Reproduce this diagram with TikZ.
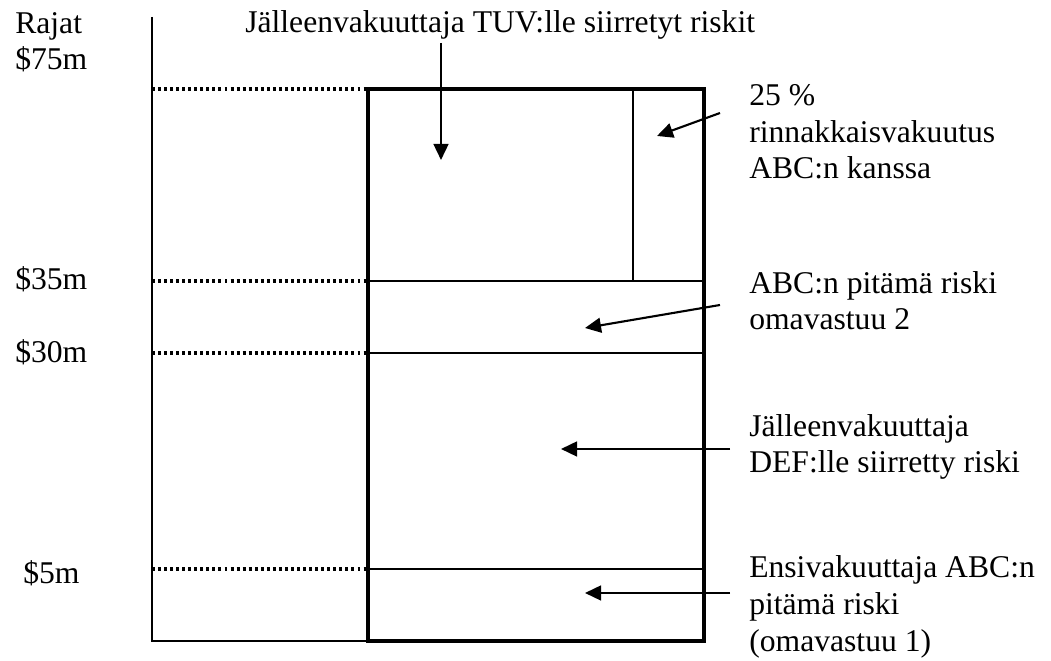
\documentclass[tikz,border=0pt]{standalone}
\usepackage{fontspec}
\setmainfont{Liberation Serif}
\usetikzlibrary{arrows.meta}

\tikzset{
  txt/.style={anchor=base west, align=left, inner sep=0pt,
              font=\fontsize{22.5}{26.3}\selectfont},
  layer/.style={line width=1.9pt},
  limit/.style={line width=2.2pt, dash pattern=on 2.1pt off 2.2pt},
  pointer/.style={line width=1.5pt, -{Triangle[length=0.4cm,width=0.37cm]}}
}

\begin{document}
\begin{tikzpicture}
  \useasboundingbox (0,0) rectangle (26.275,16.525);

  % ---------- axis ----------
  \draw[line width=1.3pt] (3.8,16.1) -- (3.8,0.5) -- (9.2,0.5);

  % ---------- limits ----------
  \node[txt] (rajat) at (0.375,14.775) {Rajat\\\$75m};
  \foreach \tx/\ty/\lab [count=\i] in {0.375/9.275/\$35m, 0.375/7.45/\$30m, 0.575/1.925/\$5m}{
    \node[txt] (lim\i) at (\tx,\ty) {\lab};
  }
  \foreach \y in {14.3,9.5,7.7,2.3}{
    \draw[limit] (3.8,\y) -- (9.2,\y);
  }

  % ---------- layers ----------
  \draw[layer] (9.2,9.5) -- (17.6,9.5);
  \draw[layer] (9.2,7.7) -- (17.6,7.7);
  \draw[layer] (9.2,2.3) -- (17.6,2.3);
  \draw[layer] (15.825,14.3) -- (15.825,9.5);
  \draw[line width=2.6pt] (9.2,0.5) rectangle (17.6,14.3);

  % ---------- labels ----------
  \node[txt] (tuv) at (6.125,15.7) {Jälleenvakuuttaja TUV:lle siirretyt riskit};
  \node[txt] (coins) at (18.725,12.05) {25 \%\\rinnakkaisvakuutus\\ABC:n kanssa};
  \node[txt] (abcRisk) at (18.725,8.275) {ABC:n pitämä riski\\omavastuu 2};
  \node[txt] (defRisk) at (18.725,4.7) {Jälleenvakuuttaja\\DEF:lle siirretty riski};
  \node[txt] (ensiRisk) at (18.725,0.24) {Ensivakuuttaja ABC:n\\pitämä riski\\(omavastuu 1)};

  % ---------- pointers ----------
  \coordinate (tuvTail) at (11.025,15.45);
  \coordinate (tuvTip) at (11.025,12.525);
  \coordinate (coinsTail) at (18.0,13.7);
  \coordinate (coinsTip) at (16.425,13.125);
  \coordinate (abcTail) at (18.0,8.9);
  \coordinate (abcTip) at (14.625,8.325);
  \coordinate (defTail) at (18.25,5.3);
  \coordinate (defTip) at (14.025,5.3);
  \coordinate (ensiTail) at (18.25,1.7);
  \coordinate (ensiTip) at (14.625,1.7);
  \foreach \a in {tuv,coins,abc,def,ensi}{
    \draw[pointer] (\a Tail) -- (\a Tip);
  }

\end{tikzpicture}
\end{document}
